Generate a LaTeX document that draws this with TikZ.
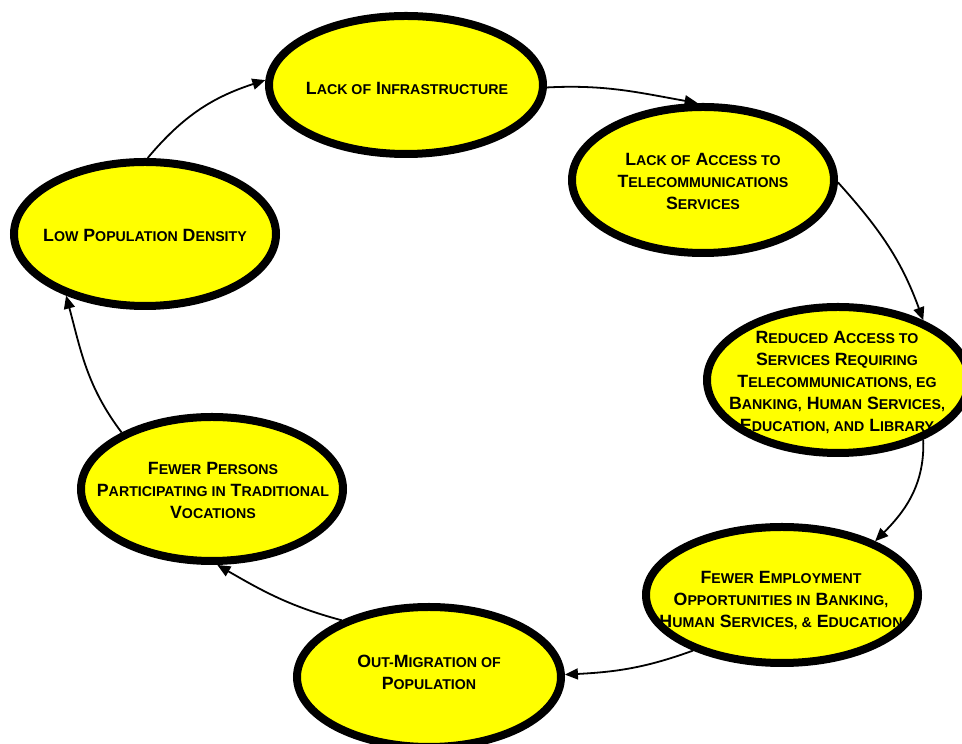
\documentclass[tikz,border=0pt]{standalone}
\usepackage{fontspec}
\setmainfont{Liberation Sans}
\usetikzlibrary{shapes.geometric,arrows.meta}
\definecolor{bubyellow}{RGB}{255,255,0}
\newcommand\smc[1]{{\fontsize{14.2}{22}\selectfont #1}}
\newcommand\btext{\fontsize{17.75}{22}\selectfont\bfseries}
\tikzset{
  bubfill/.style={ellipse, fill=bubyellow, inner sep=0pt, outer sep=4pt},
  bubtext/.style={align=center, font=\btext, inner sep=0pt},
  bubline/.style={line width=8pt},
  link/.style={line width=1.8pt, -{Triangle[length=13pt,width=11pt]}}
}
\begin{document}
\begin{tikzpicture}[x=1pt,y=1pt]
\useasboundingbox (0,0) rectangle (962,744);
\clip (0,0) rectangle (962,744);
% fills
\node[bubfill, minimum width=274pt, minimum height=138pt] (A) at (406,659) {};
\node[bubfill, minimum width=262pt, minimum height=146pt] (B) at (703,564) {};
\node[bubfill, minimum width=262pt, minimum height=146pt] (C) at (838,364) {};
\node[bubfill, minimum width=272pt, minimum height=136pt] (D) at (782,149) {};
\node[bubfill, minimum width=264pt, minimum height=140pt] (E) at (429,67) {};
\node[bubfill, minimum width=262pt, minimum height=144pt] (F) at (212,255) {};
\node[bubfill, minimum width=262pt, minimum height=144pt] (G) at (145,510) {};
% texts
\node[bubtext] (tA) at (407,656) {L\smc{ACK OF} I\smc{NFRASTRUCTURE}};
\node[bubtext] (tB) at (703,563) {L\smc{ACK OF} A\smc{CCESS TO}\\T\smc{ELECOMMUNICATIONS}\\S\smc{ERVICES}};
\node[bubtext] (tC) at (837,362) {R\smc{EDUCED} A\smc{CCESS TO}\\S\smc{ERVICES} R\smc{EQUIRING}\\T\smc{ELECOMMUNICATIONS, EG}\\B\smc{ANKING,} H\smc{UMAN} S\smc{ERVICES,}\\E\smc{DUCATION, AND} L\smc{IBRARY}};
\node[bubtext] (tD) at (781,144) {F\smc{EWER} E\smc{MPLOYMENT}\\O\smc{PPORTUNITIES IN} B\smc{ANKING,}\\H\smc{UMAN} S\smc{ERVICES, \&} E\smc{DUCATION}};
\node[bubtext] (tE) at (429,72) {O\smc{UT-}M\smc{IGRATION OF}\\P\smc{OPULATION}};
\node[bubtext] (tF) at (213,254) {F\smc{EWER} P\smc{ERSONS}\\P\smc{ARTICIPATING IN} T\smc{RADITIONAL}\\V\smc{OCATIONS}};
\node[bubtext] (tG) at (145,509) {L\smc{OW} P\smc{OPULATION} D\smc{ENSITY}};
% borders
\draw[bubline] (A.center) ellipse [x radius=137pt, y radius=69pt];
\draw[bubline] (B.center) ellipse [x radius=131pt, y radius=73pt];
\draw[bubline] (C.center) ellipse [x radius=131pt, y radius=73pt];
\draw[bubline] (D.center) ellipse [x radius=136pt, y radius=68pt];
\draw[bubline] (E.center) ellipse [x radius=132pt, y radius=70pt];
\draw[bubline] (F.center) ellipse [x radius=131pt, y radius=72pt];
\draw[bubline] (G.center) ellipse [x radius=131pt, y radius=72pt];
% connectors
\draw[link] (G.88) to[out=50, in=198] (A.178);
\draw[link] (A.-1) to[out=3, in=170] (B.94);
\draw[link] (B.-1) to[out=-48, in=110] (C.35);
\draw[link] (C.-35) to[out=-88, in=45] (D.30);
\draw[link] (D.212) to[out=200, in=3] (E.1);
\draw[link] (E.147) to[out=165, in=-30] (F.-86);
\draw[link] (F.148) to[out=127, in=-75] (G.218);
\end{tikzpicture}
\end{document}
